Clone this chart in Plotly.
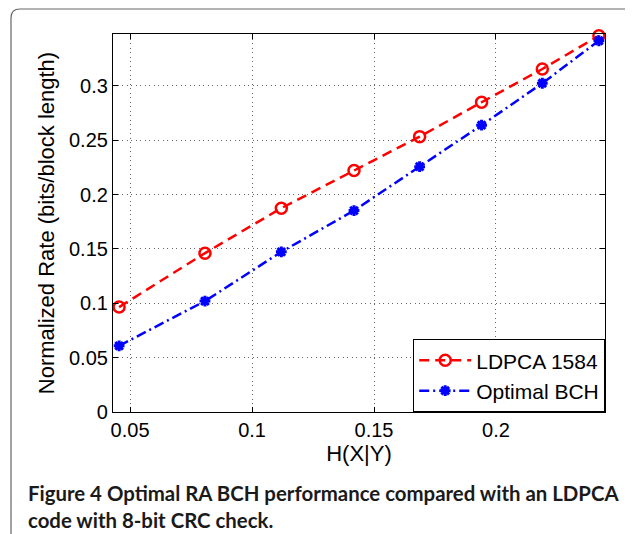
import plotly.graph_objects as go

# Data
h_xy = [0.0455, 0.0807, 0.1120, 0.1418, 0.1687, 0.1941, 0.2190, 0.2422]
ldpca_1584 = [0.0965, 0.1461, 0.1875, 0.2221, 0.2533, 0.2849, 0.3155, 0.3461]
optimal_bch = [0.0609, 0.1020, 0.1473, 0.1853, 0.2257, 0.2638, 0.3024, 0.3415]
x_ticks = [0.05, 0.1, 0.15, 0.2]
x_tick_labels = ["0.05", "0.1", "0.15", "0.2"]
y_ticks = [0, 0.05, 0.1, 0.15, 0.2, 0.25, 0.3]
y_tick_labels = ["0", "0.05", "0.1", "0.15", "0.2", "0.25", "0.3"]

OFF = 8  # default page body margin
W, H = 633 - OFF, 534 - OFF
L, R, T, B = 113 - OFF, 28, 34 - OFF, 122
PW, PH = W - L - R, H - T - B

TXT = "Liberation Sans, Arial, Helvetica, sans-serif"

fig = go.Figure()
fig.add_trace(go.Scatter(
    x=h_xy, y=ldpca_1584, name="LDPCA 1584", mode="lines+markers",
    line=dict(color="#ff0000", width=2.5, dash="10px,6px"),
    marker=dict(symbol="circle-open", size=11, color="#ff0000", line=dict(width=2.5, color="#ff0000")),
    cliponaxis=False,
))
fig.add_trace(go.Scatter(
    x=h_xy, y=optimal_bch, name="Optimal BCH", mode="lines+markers",
    line=dict(color="#0000ff", width=2.5, dash="10px,4px,2px,4px"),
    marker=dict(symbol="asterisk-open", size=9, color="#0000ff", line=dict(width=3, color="#0000ff")),
    cliponaxis=False,
))

def px2paper_x(px):
    return (px - OFF - L) / PW

def px2paper_y(py):
    return (H - B - (py - OFF)) / PH

# Outer rounded frame
x0, y0, rad = 11, 9, 9
x1, y1 = 650, 550
path = (
    f"M {px2paper_x(x0)} {px2paper_y(y1)} "
    f"L {px2paper_x(x0)} {px2paper_y(y0 + rad)} "
    f"Q {px2paper_x(x0)} {px2paper_y(y0)} {px2paper_x(x0 + rad)} {px2paper_y(y0)} "
    f"L {px2paper_x(x1)} {px2paper_y(y0)}"
)
fig.add_shape(type="path", path=path, xref="paper", yref="paper",
              line=dict(color="#666666", width=1.2))

fig.add_annotation(
    x=px2paper_x(26), y=px2paper_y(479), xref="paper", yref="paper",
    xanchor="left", yanchor="top", align="left", showarrow=False,
    text="<b>Figure 4 Optimal RA BCH performance compared with an LDPCA<br>code with 8-bit CRC check.</b>",
    font=dict(family="Lato, Open Sans, sans-serif", size=20.4, color="#1a1a1a"),
)

axis_common = dict(
    showline=True, linecolor="black", linewidth=1.2, mirror="ticks",
    ticks="inside", ticklen=5, tickcolor="black", tickwidth=1,
    showgrid=True, gridcolor="#666666", griddash="1px,3.5px", gridwidth=1,
    zeroline=False, tickfont=dict(family=TXT, size=20, color="black"),
)

fig.update_layout(
    width=W, height=H,
    margin=dict(l=L, r=R, t=T, b=B),
    paper_bgcolor="white", plot_bgcolor="white",
    xaxis=dict(range=[0.0430, 0.2447], tickvals=x_ticks, ticktext=x_tick_labels,
               title=dict(text="H(X|Y)", font=dict(family=TXT, size=22, color="black"), standoff=1),
               **axis_common),
    yaxis=dict(range=[0, 0.3477], tickvals=y_ticks, ticktext=y_tick_labels,
               title=dict(text="Normalized Rate (bits/block length)", font=dict(family=TXT, size=22, color="black"), standoff=8),
               **axis_common),
    legend=dict(x=1, y=0, xanchor="right", yanchor="bottom",
                bgcolor="white", bordercolor="black", borderwidth=1.2,
                font=dict(family=TXT, size=21, color="black"),
                tracegroupgap=0, itemwidth=52),
    showlegend=True,
)

fig.write_html("out.html")
